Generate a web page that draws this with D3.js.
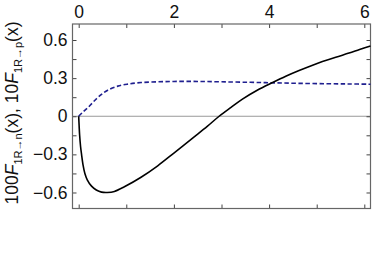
<!DOCTYPE html>
<html>
<head>
<meta charset="utf-8">
<script src="https://cdn.jsdelivr.net/npm/d3@7"></script>
<style>
  body { margin: 0; background: #fff; }
  svg { display: block; font-family: "Liberation Sans", Arial, sans-serif; }
</style>
</head>
<body>
<script>
// curve values
var xN = [0, 0.01, 0.02, 0.04, 0.06, 0.09, 0.13, 0.18, 0.27, 0.37, 0.48, 0.6, 0.75, 0.96, 1.31, 1.66, 2.0, 2.4, 2.7, 2.95, 3.2, 3.44, 3.75, 4.07, 4.35, 4.63, 4.9, 5.12, 5.4, 5.68, 5.9, 6.13];
var yN = [0, -0.08, -0.15, -0.24, -0.3, -0.38, -0.45, -0.5, -0.55, -0.58, -0.597, -0.6, -0.592, -0.555, -0.48, -0.39, -0.29, -0.17, -0.08, 0, 0.07, 0.135, 0.205, 0.265, 0.315, 0.36, 0.4, 0.43, 0.465, 0.497, 0.525, 0.553];

var xP = [0, 0.1, 0.2, 0.3, 0.4, 0.5, 0.61, 0.82, 1.03, 1.31, 1.66, 2.0, 2.5, 3.0, 3.6, 4.1, 4.6, 5.2, 5.7, 6.13];
var yP = [0, 0.037, 0.07, 0.11, 0.147, 0.178, 0.205, 0.237, 0.253, 0.265, 0.271, 0.274, 0.274, 0.271, 0.267, 0.263, 0.259, 0.256, 0.254, 0.252];

var xTicks = [0, 1, 2, 3, 4, 5, 6];
var xTickLabels = ['0', '', '2', '', '4', '', '6'];
var yTicks = [-0.6, -0.45, -0.3, -0.15, 0, 0.15, 0.3, 0.45, 0.6];
var yTickLabels = ['\u22120.6', '', '\u22120.3', '', '0', '', '0.3', '', '0.6'];

const W = 374, H = 260;
const pLeft = 72.5, pRight = 370.5, pTop = 24, pBottom = 208.5;

const svg = d3.select('body')
    .append('svg')
    .attr('width', W)
    .attr('height', H);

const x = d3.scaleLinear().domain([-0.13, 6.13]).range([pLeft, pRight]);
const y = d3.scaleLinear().domain([-0.726, 0.726]).range([pBottom, pTop]);

// zero line
svg.append('line')
    .attr('x1', pLeft).attr('x2', pRight)
    .attr('y1', y(0)).attr('y2', y(0))
    .attr('stroke', '#999')
    .attr('stroke-width', 1);

// axes, ticks pointing inward
function styleAxis(g) {
    g.select('.domain').remove();
    g.selectAll('line').attr('stroke', '#444').attr('stroke-width', 1);
    g.selectAll('text').attr('fill', '#111').style('font-size', '17.5px')
        .style('font-family', '"Liberation Sans", Arial, sans-serif');
}

svg.append('g')
    .attr('transform', `translate(0,${pTop})`)
    .call(d3.axisTop(x).tickValues(xTicks).tickSizeInner(-4).tickSizeOuter(0).tickPadding(6)
        .tickFormat((d, i) => xTickLabels[i]))
    .call(styleAxis);

svg.append('g')
    .attr('transform', `translate(0,${pBottom})`)
    .call(d3.axisBottom(x).tickValues(xTicks).tickSizeInner(-4).tickSizeOuter(0).tickFormat(''))
    .call(styleAxis);

svg.append('g')
    .attr('transform', `translate(${pLeft},0)`)
    .call(d3.axisLeft(y).tickValues(yTicks).tickSizeInner(-4).tickSizeOuter(0).tickPadding(5)
        .tickFormat((d, i) => yTickLabels[i]))
    .call(styleAxis);

svg.append('g')
    .attr('transform', `translate(${pRight},0)`)
    .call(d3.axisRight(y).tickValues(yTicks).tickSizeInner(-4).tickSizeOuter(0).tickFormat(''))
    .call(styleAxis);

// frame
svg.append('rect')
    .attr('x', pLeft).attr('y', pTop)
    .attr('width', pRight - pLeft).attr('height', pBottom - pTop)
    .attr('fill', 'none')
    .attr('stroke', '#666')
    .attr('stroke-width', 1.2);

const line = d3.line().curve(d3.curveCatmullRom.alpha(0.5));

// 10 F_{1R->p}
svg.append('path')
    .attr('d', line(xP.map((v, i) => [x(v), y(yP[i])])))
    .attr('fill', 'none')
    .attr('stroke', '#1f1f8f')
    .attr('stroke-width', 1.6)
    .attr('stroke-dasharray', '4.5,2.5');

// 100 F_{1R->n}
svg.append('path')
    .attr('d', line(xN.map((v, i) => [x(v), y(yN[i])])))
    .attr('fill', 'none')
    .attr('stroke', '#000')
    .attr('stroke-width', 1.6);

// y title
const title = svg.append('text')
    .attr('transform', 'translate(18,113) rotate(-90)')
    .attr('text-anchor', 'middle')
    .style('font-size', '17.5px')
    .attr('fill', '#111');
title.append('tspan').text('100');
title.append('tspan').style('font-style', 'italic').text('F');
title.append('tspan').attr('dy', 4).style('font-size', '11px').text('1R\u2192n');
title.append('tspan').attr('dy', -4).text('(x), 10');
title.append('tspan').style('font-style', 'italic').text('F');
title.append('tspan').attr('dy', 4).style('font-size', '11px').text('1R\u2192p');
title.append('tspan').attr('dy', -4).text('(x)');
</script>
</body>
</html>
